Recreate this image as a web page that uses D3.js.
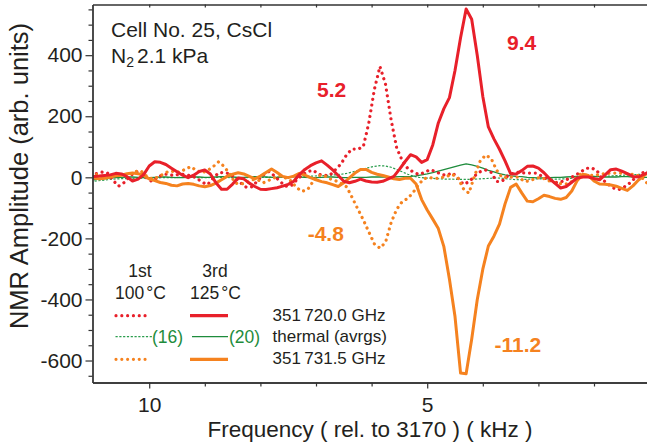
<!DOCTYPE html>
<html>
<head>
<meta charset="utf-8">
<script src="https://cdn.jsdelivr.net/npm/d3@7"></script>
<style>
  body { margin: 0; background: #fff; }
  svg { display: block; font-family: "Liberation Sans", Arial, Helvetica, sans-serif; }
</style>
</head>
<body>
<svg id="chart" width="647" height="446"></svg>
<script>
// Frequency grids (kHz, relative to 3170 kHz); 1st run sampled half a step off the 3rd run
const freqRun1 = [
  11.05,10.95,10.85,10.75,10.65,10.55,10.45,10.35,10.25,10.15,
  10.05,9.95,9.85,9.75,9.65,9.55,9.45,9.35,9.25,9.15,
  9.05,8.95,8.85,8.75,8.65,8.55,8.45,8.35,8.25,8.15,
  8.05,7.95,7.85,7.75,7.65,7.55,7.45,7.35,7.25,7.15,
  7.05,6.95,6.85,6.75,6.65,6.55,6.45,6.35,6.25,6.15,
  6.05,5.95,5.85,5.75,5.65,5.55,5.45,5.35,5.25,5.15,
  5.05,4.95,4.85,4.75,4.65,4.55,4.45,4.35,4.25,4.15,
  4.05,3.95,3.85,3.75,3.65,3.55,3.45,3.35,3.25,3.15,
  3.05,2.95,2.85,2.75,2.65,2.55,2.45,2.35,2.25,2.15,
  2.05,1.95,1.85,1.75,1.65,1.55,1.45,1.35,1.25,1.15,
  1.05,0.95
];
const freqRun3 = [
  11.0,10.9,10.8,10.7,10.6,10.5,10.4,10.3,10.2,10.1,
  10.0,9.9,9.8,9.7,9.6,9.5,9.4,9.3,9.2,9.1,
  9.0,8.9,8.8,8.7,8.6,8.5,8.4,8.3,8.2,8.1,
  8.0,7.9,7.8,7.7,7.6,7.5,7.4,7.3,7.2,7.1,
  7.0,6.9,6.8,6.7,6.6,6.5,6.4,6.3,6.2,6.1,
  6.0,5.9,5.8,5.7,5.6,5.5,5.4,5.3,5.2,5.1,
  5.0,4.9,4.8,4.7,4.6,4.5,4.4,4.3,4.2,4.1,
  4.0,3.9,3.8,3.7,3.6,3.5,3.4,3.3,3.2,3.1,
  3.0,2.9,2.8,2.7,2.6,2.5,2.4,2.3,2.2,2.1,
  2.0,1.9,1.8,1.7,1.6,1.5,1.4,1.3,1.2,1.1,
  1.0
];

// 1st run, 100 °C
const red1st = [
  7,12,17,14,-10,-29,-17,3,18,17,
  -1,-14,-1,10,10,5,11,9,5,-2,
  -16,-24,-3,15,16,11,-2,-19,-33,-31,
  -11,8,19,5,-13,-29,-28,-9,8,19,
  23,10,6,7,25,44,74,93,92,100,
  178,288,363,305,189,97,55,29,17,9,
  16,25,19,10,6,15,-2,-23,-15,4,
  18,24,16,-14,-12,5,14,17,14,14,
  14,5,-5,-13,-18,-12,-4,5,16,29,
  31,23,-7,-22,-35,-40,-31,-18,0,13,
  20,21
];
const orange1st = [
  11,9,4,5,6,7,8,10,19,21,
  4,-5,0,10,20,19,17,27,35,22,
  15,22,35,51,35,10,-19,-22,-18,-8,
  -8,-18,-10,-2,5,-2,-12,-34,-46,-40,
  -13,6,5,-5,-11,-20,-31,-66,-103,-139,
  -179,-218,-232,-213,-149,-105,-80,-69,-49,-22,
  -4,-1,-4,-1,3,10,-1,-37,-52,4,
  52,73,62,23,-1,0,1,0,-14,-11,
  -4,0,-9,-15,-20,-21,-21,-7,10,7,
  6,8,11,13,14,14,13,11,8,2,
  -18,-25
];
const thermal1st = [
  -14,-12,-10,-8,-6,-5,-4,-4,-3,-3,
  -2,-2,-2,-1,-1,-1,0,0,0,-1,
  -1,-1,0,0,0,-1,-2,-2,-1,0,
  0,0,0,1,1,1,1,2,2,3,
  4,5,6,7,8,10,13,17,22,27,
  32,36,38,37,33,26,18,10,4,0,
  -2,-3,-4,-5,-6,-6,-7,-7,-7,-6,
  -5,-4,-3,-2,-3,-5,-7,-8,-7,-6,
  -5,-5,-5,-6,-6,-5,-4,-2,-1,0,
  1,2,3,4,5,6,7,8,9,10,
  11,12
];

// 3rd run, 125 °C
const red3rd = [
  3,4,6,8,13,11,2,-12,-6,9,
  37,51,49,42,30,18,7,-1,7,19,
  24,11,-18,-39,-39,-22,-2,-5,-19,-30,
  -39,-40,-37,-34,-29,-23,-13,9,26,38,
  47,54,40,24,6,-13,-18,-13,-6,-12,
  -15,-16,-13,-5,3,26,51,74,67,49,
  58,106,178,225,261,350,457,551,518,400,
  265,165,126,92,54,12,11,22,36,37,
  30,15,-4,-20,-35,-30,-16,-2,1,1,
  -4,-8,8,25,27,20,12,3,1,10,
  18
];
const orange3rd = [
  -2,-5,-3,1,5,7,12,14,12,6,
  -5,-11,-17,-20,-26,-28,-22,-20,-23,-28,
  -31,-27,-19,-8,3,10,15,11,3,-5,
  4,16,27,16,3,-1,4,13,7,-1,
  -8,-14,-18,-24,-30,-18,-2,14,26,26,
  16,10,6,1,-5,-7,-3,-3,-22,-73,
  -107,-137,-168,-227,-334,-456,-641,-643,-530,-401,
  -301,-225,-193,-153,-87,-33,-22,-51,-78,-80,
  -70,-59,-63,-69,-72,-66,-45,-10,10,6,
  -12,-22,-23,-25,-29,-36,-43,-28,-9,6,
  18
];
const thermal3rd = [
  -8,-6,-4,-2,-1,0,1,1,0,-1,
  -1,0,1,1,0,-1,-1,0,1,1,
  0,0,1,2,2,1,0,0,1,2,
  2,1,0,0,1,2,2,1,0,-1,
  -1,0,1,1,0,-1,-1,0,0,0,
  1,1,1,1,1,2,2,3,5,8,
  11,15,20,25,30,35,40,44,41,36,
  30,23,18,12,8,5,3,2,0,-1,
  -2,-2,-1,0,0,1,2,3,3,3,
  3,2,1,1,1,2,2,1,0,0,
  0
];

// Axis ticks and peak annotations (anchored at the text's left baseline)
const yMajorTicks = [-600, -400, -200, 0, 200, 400];
const yMinorTicks = [-650,-550,-500,-450,-350,-300,-250,-150,-100,-50,50,100,150,250,300,350,450,500,550];
const xMajorTicks = [10, 5];
const xMinorTicks = [9, 8, 7, 6, 4, 3, 2];
const peakLabels = [
  { text: "5.2",   f: 6.98, v: 264,  color: "red" },
  { text: "9.4",   f: 3.565, v: 417, color: "red" },
  { text: "-4.8",  f: 7.15, v: -210, color: "orange" },
  { text: "-11.2", f: 3.79, v: -573, color: "orange" }
];

const COLORS = { red: "#e8202a", orange: "#f5821f", green: "#1e8c3c", greenDot: "#2a9d4d", ink: "#231f20" };

const svg = d3.select("#chart");
const x = d3.scaleLinear().domain([11.02, 1.0]).range([92.5, 649.6]);
const y = d3.scaleLinear().domain([-672, 566]).range([382.5, 4.5]);

svg.append("defs").append("clipPath").attr("id", "plotClip")
  .append("rect").attr("x", 93).attr("y", 4.5).attr("width", 560).attr("height", 378);

const line = (fs) => d3.line().x((d, i) => x(fs[i])).y(d => y(d)).curve(d3.curveLinear);

const series = [
  { vals: thermal1st, fs: freqRun1, color: COLORS.greenDot, width: 1.2, dash: "2.2,1.6", cap: "butt" },
  { vals: thermal3rd, fs: freqRun3, color: COLORS.green, width: 1.3, dash: null, cap: "butt" },
  { vals: red1st, fs: freqRun1, color: COLORS.red, width: 3.2, dash: "0.01,5.8", cap: "round" },
  { vals: orange1st, fs: freqRun1, color: COLORS.orange, width: 3.2, dash: "0.01,5.8", cap: "round" },
  { vals: orange3rd, fs: freqRun3, color: COLORS.orange, width: 3.0, dash: null, cap: "round" },
  { vals: red3rd, fs: freqRun3, color: COLORS.red, width: 3.0, dash: null, cap: "round" }
];

const plot = svg.append("g").attr("clip-path", "url(#plotClip)");
series.forEach(s => {
  plot.append("path")
    .attr("d", line(s.fs)(s.vals))
    .attr("fill", "none")
    .attr("stroke", s.color)
    .attr("stroke-width", s.width)
    .attr("stroke-linecap", s.cap)
    .attr("stroke-linejoin", "round")
    .attr("stroke-dasharray", s.dash);
});

// Axes
const axisStyle = g => {
  g.selectAll(".domain").attr("stroke", "#333").attr("stroke-width", 1.3);
  g.selectAll(".tick line").attr("stroke", "#333").attr("stroke-width", 1.2);
  g.selectAll("text").attr("fill", COLORS.ink).attr("font-size", 21)
    .attr("font-family", "'Liberation Sans', Arial, sans-serif");
};

svg.append("g").attr("transform", "translate(92.5,0)")
  .call(d3.axisLeft(y).tickValues(yMinorTicks).tickSize(4).tickFormat("").tickSizeOuter(0))
  .call(axisStyle);
svg.append("g").attr("transform", "translate(92.5,0)")
  .call(d3.axisLeft(y).tickValues(yMajorTicks).tickSize(7).tickPadding(3).tickFormat(d => String(d)).tickSizeOuter(0))
  .call(axisStyle);

svg.append("g").attr("transform", "translate(0,382.5)")
  .call(d3.axisBottom(x).tickValues(xMinorTicks).tickSize(4).tickFormat("").tickSizeOuter(0))
  .call(axisStyle);
const xAx = svg.append("g").attr("transform", "translate(0,382.5)")
  .call(d3.axisBottom(x).tickValues(xMajorTicks).tickSize(6).tickFormat(d => String(d)).tickSizeOuter(0))
  .call(axisStyle);
xAx.selectAll("text").attr("y", 29.3).attr("dy", null);

// top frame with inward ticks
svg.append("g").attr("transform", "translate(0,4.5)")
  .call(d3.axisTop(x).tickValues(xMajorTicks.concat(xMinorTicks)).tickSize(-3).tickFormat("").tickSizeOuter(0))
  .call(axisStyle);

// Axis titles
svg.append("text")
  .attr("x", 370).attr("y", 437)
  .attr("text-anchor", "middle").attr("font-size", 22.5).attr("fill", COLORS.ink)
  .text("Frequency ( rel. to 3170 ) ( kHz )");
svg.append("text")
  .attr("transform", "translate(27.5,176) rotate(-90)")
  .attr("text-anchor", "middle").attr("font-size", 25.5).attr("fill", COLORS.ink)
  .text("NMR Amplitude (arb. units)");

// Sample description
svg.append("text").attr("x", 111).attr("y", 36.7).attr("font-size", 21).attr("fill", COLORS.ink)
  .text("Cell No. 25, CsCl");
const n2 = svg.append("text").attr("x", 111).attr("y", 63.3).attr("font-size", 21).attr("fill", COLORS.ink);
n2.append("tspan").text("N");
n2.append("tspan").attr("font-size", 14).attr("dy", 4).text("2");
n2.append("tspan").attr("dy", -4).attr("dx", 3).text("2.1 kPa");

// Peak annotations
svg.append("g").selectAll("text").data(peakLabels).join("text")
  .attr("x", d => x(d.f)).attr("y", d => y(d.v))
  .attr("font-size", 21).attr("font-weight", "bold")
  .attr("fill", d => COLORS[d.color])
  .text(d => d.text);

// Legend
const legend = svg.append("g").attr("fill", COLORS.ink).attr("font-size", 17.5);
legend.append("text").attr("x", 140).attr("y", 277.3).attr("text-anchor", "middle").text("1st");
legend.append("text").attr("x", 215).attr("y", 277.3).attr("text-anchor", "middle").text("3rd");
const t1 = legend.append("text").attr("x", 115).attr("y", 299);
t1.append("tspan").text("100");
t1.append("tspan").attr("dx", 2).text("°C");
const t3 = legend.append("text").attr("x", 190).attr("y", 299);
t3.append("tspan").text("125");
t3.append("tspan").attr("dx", 2).text("°C");

const legendRows = [
  { yy: 315.7, dot: COLORS.red, solid: COLORS.red, label: "351\u2009720.0 GHz", thermal: false },
  { yy: 336.7, dot: COLORS.greenDot, solid: COLORS.green, label: "thermal (avrgs)", thermal: true },
  { yy: 359.3, dot: COLORS.orange, solid: COLORS.orange, label: "351\u2009731.5 GHz", thermal: false }
];
legendRows.forEach(r => {
  legend.append("line")
    .attr("x1", r.thermal ? 115.5 : 116).attr("x2", r.thermal ? 152 : 150)
    .attr("y1", r.yy).attr("y2", r.yy)
    .attr("stroke", r.dot)
    .attr("stroke-width", r.thermal ? 1.2 : 3.2)
    .attr("stroke-linecap", r.thermal ? "butt" : "round")
    .attr("stroke-dasharray", r.thermal ? "2.2,1.6" : "0.01,5.8");
  legend.append("line")
    .attr("x1", r.thermal ? 192 : 190).attr("x2", 228)
    .attr("y1", r.yy).attr("y2", r.yy)
    .attr("stroke", r.solid).attr("stroke-width", r.thermal ? 1.3 : 3.2);
  if (r.thermal) {
    legend.append("text").attr("x", 152).attr("y", r.yy + 6.5).attr("fill", COLORS.green).text("(16)");
    legend.append("text").attr("x", 229).attr("y", r.yy + 6.5).attr("fill", COLORS.green).text("(20)");
  }
  legend.append("text").attr("x", 272.5).attr("y", r.yy + 5).attr("font-size", 17).text(r.label);
});
</script>
</body>
</html>
